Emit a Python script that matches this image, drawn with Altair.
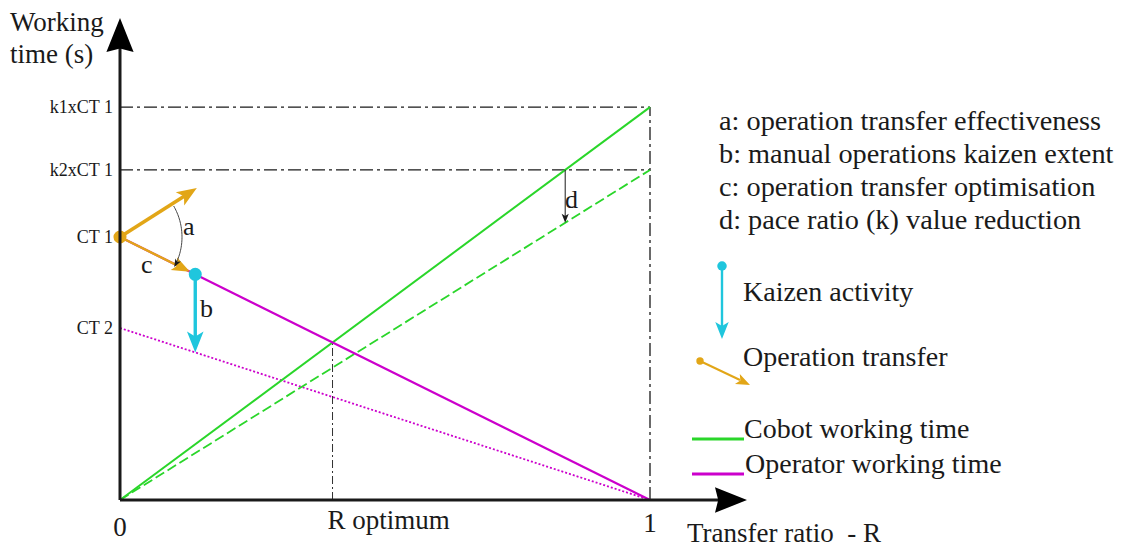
import math
import altair as alt
import numpy as np
import pandas as pd

# ---------------- data ----------------
r_ends = [0.0, 1.0]
cobot_k1 = [0.0, 1.494]        # cobot working time, pace ratio k1
cobot_k2 = [0.0, 1.255]        # cobot working time, reduced pace ratio k2
operator_ct1 = [1.0, 0.0]      # operator working time from CT 1
operator_ct2 = [0.654, 0.0]    # operator working time from CT 2 (after kaizen)
level_names = ["k1xCT 1", "k2xCT 1", "CT 1", "CT 2"]
level_values = [1.494, 1.255, 1.0, 0.654]
r_optimum = 0.401
transfer_r = 0.142             # point reached by the operation transfer
transfer_up = [0.145, 1.186]   # end of the "effectiveness" arrow
d_r = 0.84                     # where arrow d is drawn
x_tick_names = ["0", "R optimum", "1"]
x_tick_values = [0.0, 0.401, 1.0]
note_lines = ["a: operation transfer effectiveness",
              "b: manual operations kaizen extent",
              "c: operation transfer optimisation",
              "d: pace ratio (k) value reduction"]
legend_names = ["Kaizen activity", "Operation transfer",
                "Cobot working time", "Operator working time"]

# ---------------- layout ----------------
W, H = 1114, 540
PAGE = 8
O_PX, O_PY = 120, 500          # page pixel of the origin
SX, SY = 530.0, 263.0          # pixels per unit

GREEN = "#2ad62a"
MAGENTA = "#cc00cc"
ORANGE = "#e2a617"
CYAN = "#1fc6dd"
INK = "#1a1a1a"
FONT = "Liberation Serif"


def dxp(p):
    return (p - O_PX) / SX


def dyp(p):
    return (O_PY - p) / SY


XS = alt.Scale(domain=[dxp(PAGE), dxp(PAGE + W)], nice=False, zero=False)
YS = alt.Scale(domain=[dyp(PAGE + H), dyp(PAGE)], nice=False, zero=False)


def ex(f="x"):
    return alt.X(f, type="quantitative", scale=XS, axis=None)


def ey(f="y"):
    return alt.Y(f, type="quantitative", scale=YS, axis=None)


def seg(x0, y0, x1, y1, color, width, dash=None, cap="butt"):
    df = pd.DataFrame({"x": [x0], "y": [y0], "x2": [x1], "y2": [y1]})
    kw = dict(color=color, strokeWidth=width, strokeCap=cap)
    if dash:
        kw["strokeDash"] = dash
    return alt.Chart(df).mark_rule(**kw).encode(
        x=ex("x"), y=ey("y"), x2=alt.X2("x2"), y2=alt.Y2("y2"))


def sang(dx, dy):
    """screen angle (clockwise from up) of a data-space direction"""
    return math.degrees(math.atan2(dx * SX, dy * SY)) % 360


def back(tx, ty, ang, dist):
    a = math.radians(ang)
    return tx - dist * math.sin(a) / SX, ty - dist * math.cos(a) / SY


ARROW = "M0,-1L0.75,0.9L0,0.45L-0.75,0.9Z"
TRI = "M0,-1L0.8,1L0,0.8L-0.8,1Z"


def head(tx, ty, ang, length, color, shape=ARROW, span=1.9):
    s = 2 * length / span
    cx, cy = back(tx, ty, ang, s / 2)
    return alt.Chart(pd.DataFrame({"x": [cx], "y": [cy]})).mark_point(
        shape=shape, filled=True, color=color, opacity=1, size=s * s,
        angle=ang, strokeWidth=0).encode(x=ex(), y=ey())


def dot(x, y, color, size):
    return alt.Chart(pd.DataFrame({"x": [x], "y": [y]})).mark_point(
        shape="circle", filled=True, color=color, opacity=1, size=size,
        strokeWidth=0).encode(x=ex(), y=ey())


def txt(xs, ys, texts, align="left", size=28):
    df = pd.DataFrame({"x": xs, "y": ys, "t": texts})
    return alt.Chart(df).mark_text(
        align=align, baseline="alphabetic", fontSize=size, font=FONT,
        color=INK).encode(x=ex(), y=ey(), text="t:N")


layers = []
DD = [13, 4, 3, 4]
# dash-dot reference lines
layers.append(seg(0, level_values[0], 1, level_values[0], INK, 1.3, DD))
layers.append(seg(0, level_values[1], 1, level_values[1], INK, 1.3, DD))
layers.append(seg(1, 0, 1, level_values[0], INK, 1.3, DD))
layers.append(seg(r_optimum, 0, r_optimum, operator_ct1[0] * (1 - r_optimum),
                  INK, 0.9, [8, 3, 2, 3]))

# working-time lines
layers.append(seg(r_ends[0], operator_ct2[0], r_ends[1], operator_ct2[1],
                  MAGENTA, 1.8, [2, 2]))
layers.append(seg(r_ends[0], cobot_k2[0], r_ends[1], cobot_k2[1],
                  GREEN, 1.8, [10, 4]))
layers.append(seg(r_ends[0], cobot_k1[0], r_ends[1], cobot_k1[1], GREEN, 2))
layers.append(seg(r_ends[0], operator_ct1[0], r_ends[1], operator_ct1[1],
                  MAGENTA, 2.2))

# d arrow
y_top_d = level_values[1]
y_bot_d = cobot_k2[1] * d_r
bx, by = back(d_r, y_bot_d, 180, 5)
layers.append(seg(d_r, y_top_d, bx, by, INK, 1))
layers.append(head(d_r, y_bot_d, 180, 9, INK))

# operation transfer arrows (orange)
ct1 = level_values[2]
a_up = sang(transfer_up[0], transfer_up[1] - ct1)
bx, by = back(transfer_up[0], transfer_up[1], a_up, 9)
layers.append(seg(0, ct1, bx, by, ORANGE, 3.6))
layers.append(head(transfer_up[0], transfer_up[1], a_up, 20, ORANGE))

tip_r = transfer_r - 0.010
tip_y = ct1 * (1 - tip_r)
a_tr = sang(tip_r, tip_y - ct1)
bx, by = back(tip_r, tip_y, a_tr, 9)
layers.append(seg(0, ct1, bx, by, ORANGE, 2.4))
layers.append(head(tip_r, tip_y, a_tr, 18, ORANGE))

# arc a
cxp, cyp = O_PX, O_PY - SY * ct1
phi = np.radians(np.linspace(-30, 27, 40))
R_ARC = 62
arc = pd.DataFrame({
    "x": [dxp(cxp + R_ARC * math.cos(p)) for p in phi],
    "y": [dyp(cyp + R_ARC * math.sin(p)) for p in phi],
    "i": list(range(len(phi)))})
layers.append(alt.Chart(arc).mark_line(color="#444", strokeWidth=1).encode(
    x=ex(), y=ey(), order="i:Q"))
pe = math.radians(29)
layers.append(head(dxp(cxp + R_ARC * math.cos(pe)), dyp(cyp + R_ARC * math.sin(pe)),
                   209, 8, INK))

# kaizen arrow (cyan)
k_top = ct1 * (1 - transfer_r)
k_bot = operator_ct2[0] * (1 - transfer_r)
bx, by = back(transfer_r, k_bot, 180, 10)
layers.append(seg(transfer_r, k_top, bx, by, CYAN, 3.4))
layers.append(head(transfer_r, k_bot, 180, 21, CYAN))

# dots
layers.append(dot(0, ct1, ORANGE, 170))
layers.append(dot(transfer_r, k_top, CYAN, 170))

# axes with arrow heads
layers.append(seg(0, 0, 0, dyp(40), INK, 3))
layers.append(seg(0, 0, dxp(725), 0, INK, 3))
layers.append(head(0, dyp(18), 0, 34, "#000", TRI, 2.0))
layers.append(head(dxp(747), 0, 90, 32, "#000", TRI, 2.0))

# axis texts (alphabetic baselines)
layers.append(txt([dxp(113)] * 4, [v - 6 / SY for v in level_values],
                  level_names, "right", 18))
layers.append(txt([x_tick_values[0], x_tick_values[2]], [dyp(536), dyp(532)],
                  [x_tick_names[0], x_tick_names[2]], "center", 27))
layers.append(txt([x_tick_values[1] - 5 / SX], [dyp(529)],
                  [x_tick_names[1]], "left", 27))
layers.append(txt([dxp(10), dxp(10)], [dyp(31), dyp(63)],
                  ["Working", "time (s)"], "left", 27))
layers.append(txt([dxp(687)], [dyp(542)], ["Transfer ratio\u00a0\u00a0- R"], "left", 27))

# letters a, b, c, d
layers.append(txt([dxp(183), dxp(200), dxp(141), dxp(565)],
                  [dyp(235), dyp(317), dyp(273), dyp(208)],
                  ["a", "b", "c", "d"], "left", 26))

# notes on the right
layers.append(txt([dxp(719)] * 4, [dyp(130), dyp(163), dyp(196), dyp(229)],
                  note_lines, "left", 28.3))

# legend symbols
layers.append(seg(dxp(722), dyp(266), dxp(722), dyp(326), CYAN, 2.4))
layers.append(head(dxp(722), dyp(339), 180, 17, CYAN))
layers.append(dot(dxp(722), dyp(266), CYAN, 90))
a_lg = math.degrees(math.atan2(50, -24)) % 360
layers.append(seg(dxp(700), dyp(361), dxp(740), dyp(380), ORANGE, 2))
layers.append(head(dxp(750), dyp(385), a_lg, 14, ORANGE))
layers.append(dot(dxp(700), dyp(361), ORANGE, 55))
layers.append(seg(dxp(692), dyp(439), dxp(744), dyp(439), GREEN, 3))
layers.append(seg(dxp(692), dyp(474), dxp(744), dyp(474), MAGENTA, 3))
layers.append(txt([dxp(743), dxp(743), dxp(744), dxp(745)],
                  [dyp(301), dyp(366), dyp(438), dyp(473)],
                  legend_names, "left", 28))

chart = alt.layer(*layers).properties(
    width=W, height=H, padding=0, background="white"
).configure_view(stroke=None)

chart.save("out.html", embed_options={"renderer": "svg", "actions": False})
